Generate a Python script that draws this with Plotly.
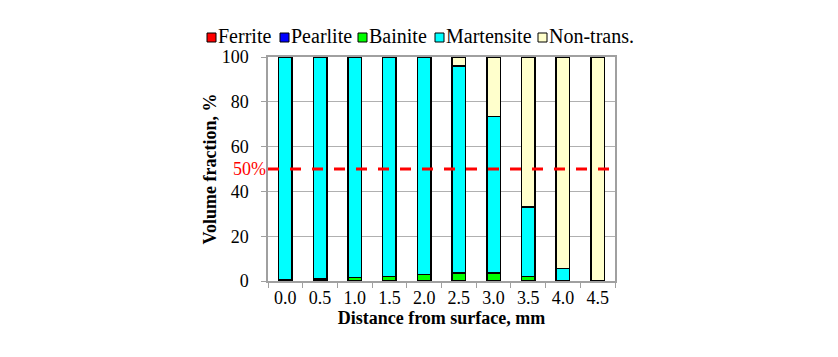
import plotly.graph_objects as go

distances = ["0.0", "0.5", "1.0", "1.5", "2.0", "2.5", "3.0", "3.5", "4.0", "4.5"]
ferrite = [0, 0, 0, 0, 0, 0, 0, 0, 0, 0]
pearlite = [0, 0, 0, 0, 0, 0, 0, 0, 0, 0]
bainite = [0.5, 1.0, 1.5, 2.0, 3.0, 3.5, 3.5, 2.0, 0.3, 0]
martensite = [99.5, 99.0, 98.5, 98.0, 97.0, 92.5, 70.0, 31.0, 5.3, 0]
non_trans = [0, 0, 0, 0, 0, 4.0, 26.5, 67.0, 94.4, 100]
threshold = 50

series = [
    ("Ferrite", ferrite, "#ff0000"),
    ("Pearlite", pearlite, "#0000ff"),
    ("Bainite", bainite, "#00ff00"),
    ("Martensite", martensite, "#00ffff"),
    ("Non-trans.", non_trans, "#ffffcc"),
]

font_family = "Liberation Serif"

# layout geometry (figure pixels)
W, H = 838, 357
ML, MR, MT, MB = 260, 231, 49, 84
PW, PH = W - ML - MR, H - MT - MB


def px_x(fx):
    return (fx - ML) / PW


def px_y(fy):
    return 1 + (MT - fy) / PH


fig = go.Figure()
for name, vals, col in series:
    fig.add_trace(go.Bar(
        x=distances, y=vals, name=name, showlegend=False,
        marker=dict(color=col, line=dict(color="#000000", width=1.5)),
    ))

fig.add_shape(type="line", xref="paper", yref="y", x0=0, x1=1,
              y0=threshold, y1=threshold,
              line=dict(color="#ff0000", width=3, dash="11px,11px"))
fig.add_annotation(xref="paper", yref="y", x=0, y=threshold, text="50%",
                   showarrow=False, xanchor="right", yanchor="middle", xshift=0,
                   font=dict(color="#ff0000", size=18, family=font_family))

# custom compact legend
legend_sym_x = [199, 272, 350, 427, 530]
legend_cy = 28.5
sym = 9
for (name, vals, col), sx in zip(series, legend_sym_x):
    fig.add_shape(type="rect", xref="paper", yref="paper",
                  x0=px_x(sx), x1=px_x(sx + sym),
                  y0=px_y(legend_cy + 1 + sym / 2), y1=px_y(legend_cy + 1 - sym / 2),
                  fillcolor=col, line=dict(color="#000000", width=1))
    fig.add_annotation(xref="paper", yref="paper", x=px_x(sx + sym),
                       y=px_y(legend_cy), text=name, showarrow=False,
                       xanchor="left", yanchor="middle",
                       font=dict(size=20, family=font_family, color="#000000"))

fig.update_layout(
    width=W, height=H,
    barmode="stack", bargap=0.61,
    plot_bgcolor="white", paper_bgcolor="white",
    margin=dict(l=ML, r=MR, t=MT, b=MB, autoexpand=False),
    font=dict(family=font_family, size=18, color="#000000"),
    showlegend=False,
)
fig.update_xaxes(
    type="category", tickson="boundaries", ticks="outside", ticklen=5,
    tickcolor="#a0a0a0", showline=True, linecolor="#a0a0a0", linewidth=1.5,
    mirror=True, showgrid=False, automargin=False,
    title=dict(text="<b>Distance from surface, mm</b>", standoff=3,
               font=dict(size=18, family=font_family)),
    tickfont=dict(size=18, family=font_family),
)
fig.update_yaxes(
    range=[0, 100], tickvals=[0, 20, 40, 60, 80, 100], ticks="outside", ticklen=5,
    tickcolor="#a0a0a0", showline=True, linecolor="#a0a0a0", linewidth=1.5,
    mirror=True, showgrid=True, gridcolor="#b0b0b0", gridwidth=1.2,
    automargin=False, ticklabelstandoff=9,
    title=dict(text="<b>Volume fraction, %</b>", standoff=0,
               font=dict(size=18, family=font_family)),
    tickfont=dict(size=18, family=font_family),
    zeroline=False,
)

fig.write_html("out.html")
